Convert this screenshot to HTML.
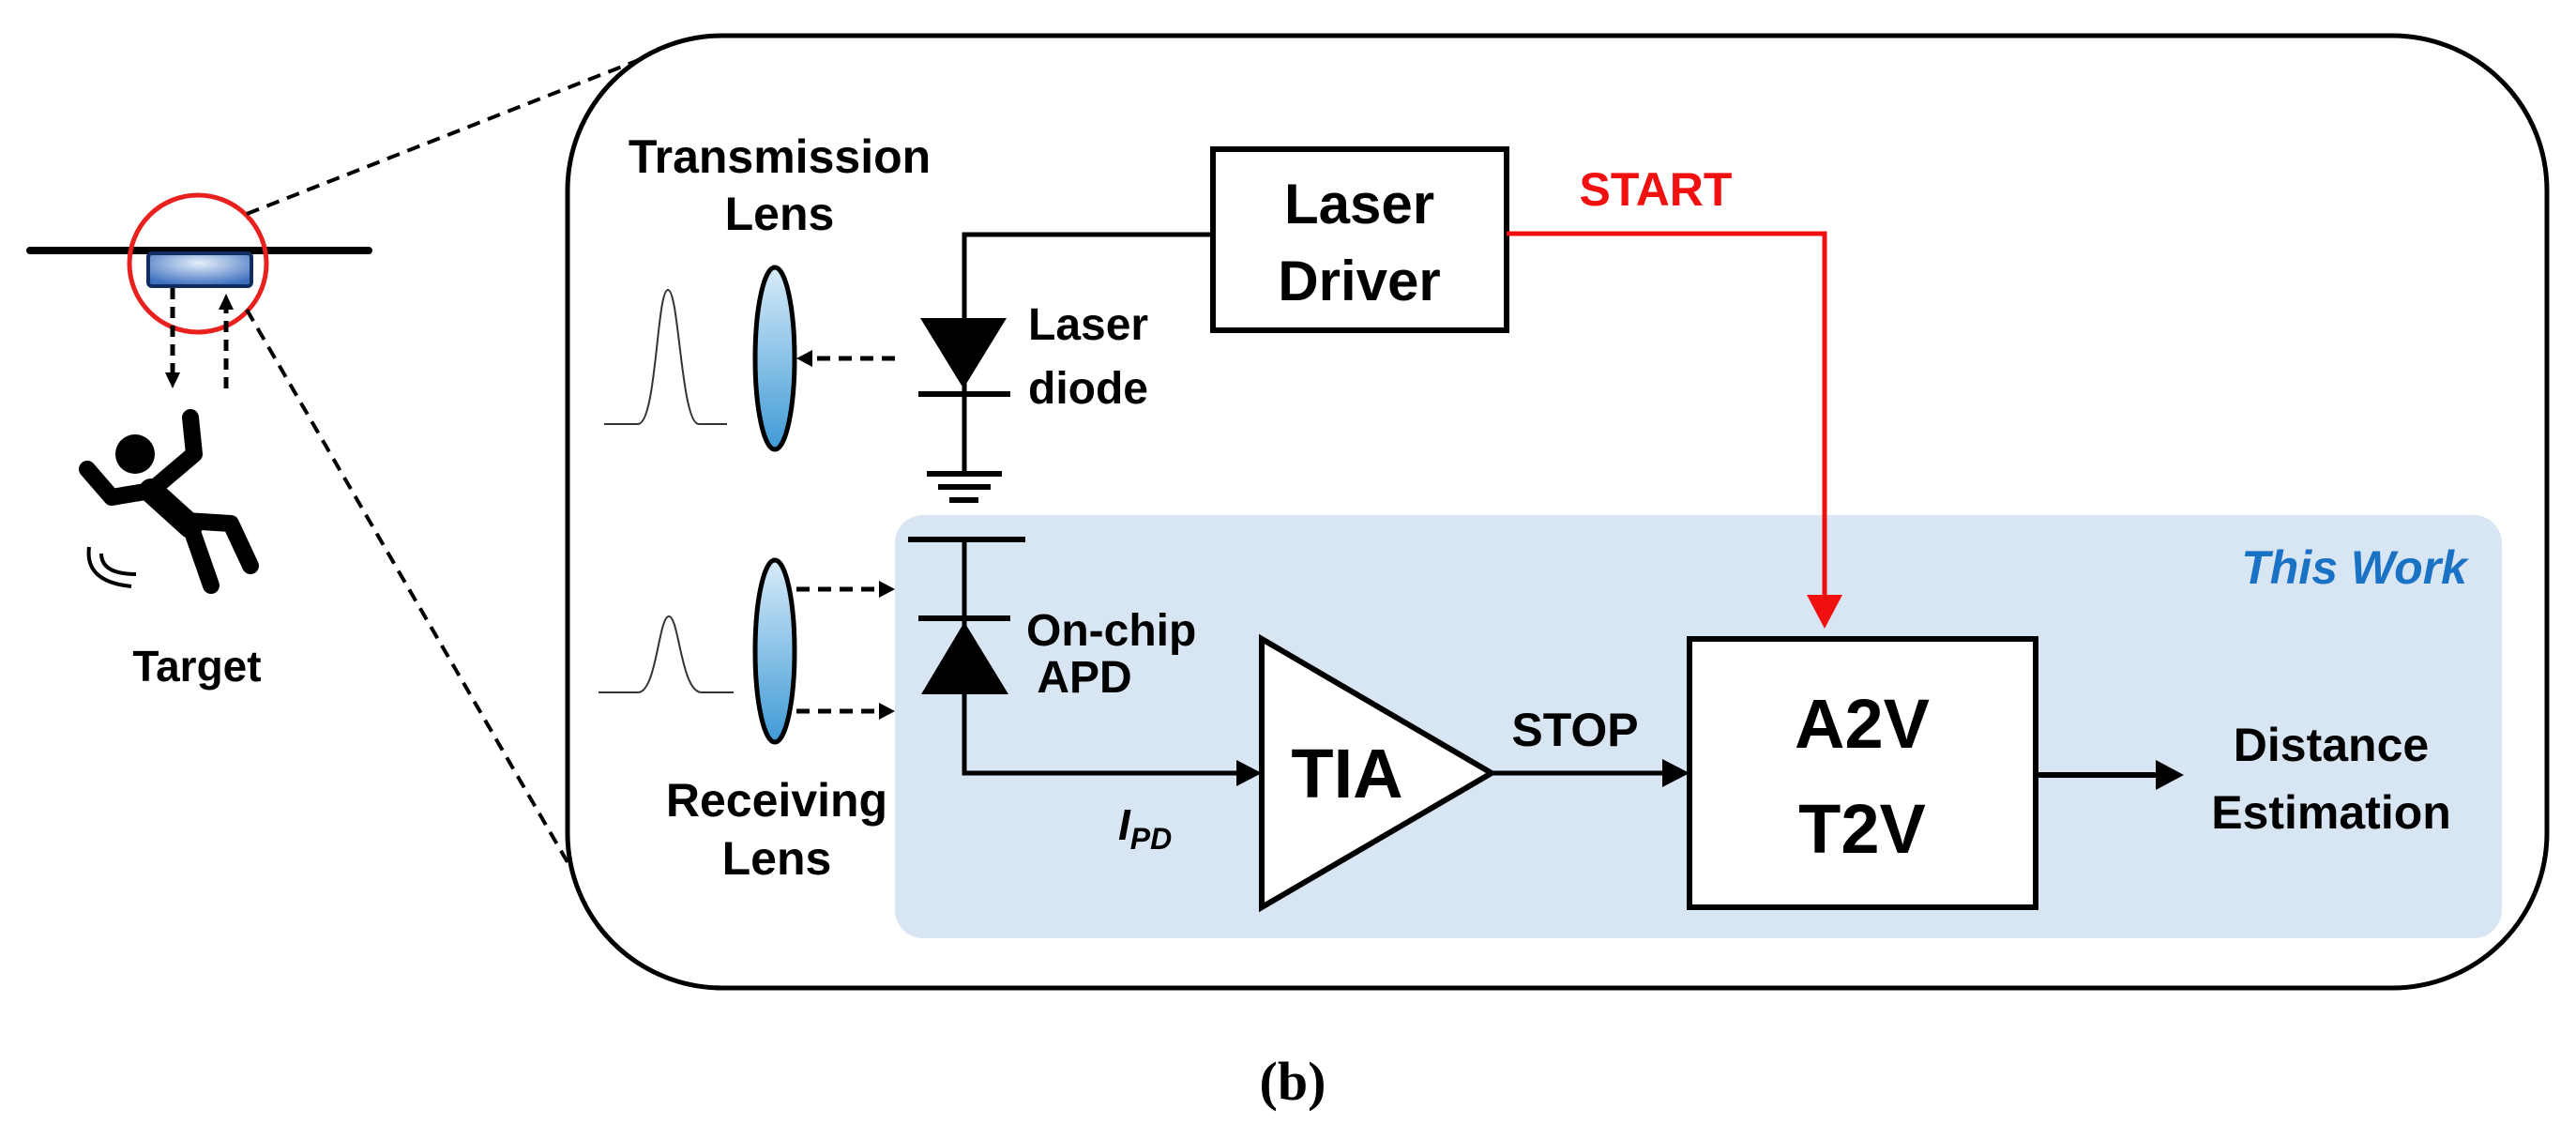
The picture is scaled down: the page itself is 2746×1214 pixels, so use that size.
<!DOCTYPE html>
<html><head><meta charset="utf-8"><style>
html,body{margin:0;padding:0;background:#fff;}
svg{display:block;}
text{font-family:"Liberation Sans",Arial,sans-serif;font-weight:bold;}
</style></head><body>
<svg width="2746" height="1214" viewBox="0 0 2746 1214" xmlns="http://www.w3.org/2000/svg">
<defs>
<linearGradient id="lg" x1="0" y1="0" x2="0" y2="1">
<stop offset="0" stop-color="#d6ebf8"/><stop offset="1" stop-color="#3f9ad6"/></linearGradient>
<radialGradient id="rg" cx="0.5" cy="0.3" r="0.7">
<stop offset="0" stop-color="#e6effa"/><stop offset="1" stop-color="#3d6fbf"/></radialGradient>
</defs>
<!-- outer box -->
<rect x="605" y="38" width="2110" height="1015" rx="165" fill="#fff" stroke="#000" stroke-width="5"/>
<rect x="954" y="549" width="1713" height="451" rx="30" fill="#d8e5f3"/>
<!-- left scene -->
<line x1="32" y1="267" x2="393" y2="267" stroke="#000" stroke-width="8" stroke-linecap="round"/>
<rect x="158" y="270" width="110" height="35" rx="4" fill="url(#rg)" stroke="#0f2d5e" stroke-width="4"/>
<circle cx="211" cy="281" r="73" fill="none" stroke="#e8201e" stroke-width="5"/>
<line x1="263" y1="228" x2="691" y2="60" stroke="#000" stroke-width="4" stroke-dasharray="14,9"/>
<line x1="263" y1="330" x2="605" y2="919" stroke="#000" stroke-width="4" stroke-dasharray="14,9"/>
<line x1="184" y1="307" x2="184" y2="398" stroke="#000" stroke-width="5" stroke-dasharray="12,8"/>
<polygon points="176,397 192,397 184,414" fill="#000"/>
<line x1="241" y1="414" x2="241" y2="328" stroke="#000" stroke-width="5" stroke-dasharray="12,8"/>
<polygon points="233,330 249,330 241,313" fill="#000"/>
<!-- person -->
<g stroke="#000" stroke-width="18" stroke-linecap="round" stroke-linejoin="round" fill="none">
<circle cx="144" cy="484" r="21" fill="#000" stroke="none"/>
<polyline points="203,445 207,484 161,523 119,530 93,500"/>
<polyline points="161,523 203,561 225,624"/>
<polyline points="198,555 246,558 267,603"/>
<line x1="161" y1="523" x2="203" y2="561" stroke-width="26"/>
</g>
<g stroke="#000" stroke-width="4" fill="none">
<path d="M95,583 Q90,620 140,625"/><path d="M108,590 Q108,612 145,612"/>
</g>
<text x="210" y="726" font-size="46" text-anchor="middle">Target</text>
<!-- lenses -->
<text x="831" y="184" font-size="50" text-anchor="middle">Transmission</text>
<text x="831" y="245" font-size="50" text-anchor="middle">Lens</text>
<text x="828" y="870" font-size="50" text-anchor="middle">Receiving</text>
<text x="828" y="932" font-size="50" text-anchor="middle">Lens</text>
<path d="M644,452 L680,452 C700,452 700,309 712,309 C724,309 726,452 745,452 L775,452" fill="none" stroke="#333" stroke-width="2"/>
<path d="M638,738 L680,738 C700,738 702,657 713,657 C724,657 726,738 748,738 L782,738" fill="none" stroke="#333" stroke-width="2"/>
<ellipse cx="826" cy="382" rx="21" ry="97" fill="url(#lg)" stroke="#000" stroke-width="5"/>
<ellipse cx="826" cy="694" rx="21" ry="97" fill="url(#lg)" stroke="#000" stroke-width="5"/>
<line x1="954" y1="382" x2="862" y2="382" stroke="#000" stroke-width="5" stroke-dasharray="14,9"/>
<polygon points="849,382 866,373 866,391" fill="#000"/>
<line x1="849" y1="628" x2="940" y2="628" stroke="#000" stroke-width="5" stroke-dasharray="14,9"/>
<polygon points="954,628 937,619 937,637" fill="#000"/>
<line x1="849" y1="758" x2="940" y2="758" stroke="#000" stroke-width="5" stroke-dasharray="14,9"/>
<polygon points="954,758 937,749 937,767" fill="#000"/>
<!-- laser diode -->
<polyline points="1291,250 1028,250 1028,505" fill="none" stroke="#000" stroke-width="5"/>
<polygon points="981,339 1073,339 1027,414" fill="#000"/>
<line x1="979" y1="420" x2="1077" y2="420" stroke="#000" stroke-width="6"/>
<line x1="988" y1="505" x2="1068" y2="505" stroke="#000" stroke-width="6"/>
<line x1="1000" y1="519" x2="1056" y2="519" stroke="#000" stroke-width="6"/>
<line x1="1012" y1="533" x2="1043" y2="533" stroke="#000" stroke-width="6"/>
<text x="1096" y="362" font-size="48">Laser</text>
<text x="1096" y="430" font-size="48">diode</text>
<!-- APD -->
<line x1="968" y1="575" x2="1093" y2="575" stroke="#000" stroke-width="6"/>
<polyline points="1028,575 1028,824 1330,824" fill="none" stroke="#000" stroke-width="5"/>
<line x1="979" y1="659" x2="1077" y2="659" stroke="#000" stroke-width="6"/>
<polygon points="982,740 1075,740 1028,663" fill="#000"/>
<polygon points="1345,824 1318,810 1318,838" fill="#000"/>
<text x="1094" y="688" font-size="48">On-chip</text>
<text x="1156" y="738" font-size="48" text-anchor="middle">APD</text>
<text x="1192" y="895" font-size="46" font-style="italic">I<tspan font-size="32" dy="10">PD</tspan></text>
<!-- Laser driver -->
<rect x="1293" y="159" width="313" height="193" fill="#fff" stroke="#000" stroke-width="6"/>
<text x="1449" y="238" font-size="60" text-anchor="middle">Laser</text>
<text x="1449" y="320" font-size="60" text-anchor="middle">Driver</text>
<text x="1765" y="219" font-size="50" text-anchor="middle" fill="#f01010">START</text>
<polyline points="1606,249 1945,249 1945,640" fill="none" stroke="#f01010" stroke-width="5"/>
<polygon points="1926,634 1964,634 1945,670" fill="#f01010"/>
<text x="2630" y="622" font-size="50" text-anchor="end" font-style="italic" fill="#1a72c4">This Work</text>
<!-- TIA -->
<polygon points="1345,681 1590,824 1345,967" fill="#fff" stroke="#000" stroke-width="6"/>
<text x="1436" y="850" font-size="74" text-anchor="middle">TIA</text>
<line x1="1590" y1="824" x2="1775" y2="824" stroke="#000" stroke-width="5"/>
<polygon points="1801,824 1772,809 1772,839" fill="#000"/>
<text x="1679" y="795" font-size="50" text-anchor="middle">STOP</text>
<rect x="1801" y="681" width="369" height="286" fill="#fff" stroke="#000" stroke-width="6"/>
<text x="1985" y="797" font-size="74" text-anchor="middle">A2V</text>
<text x="1985" y="909" font-size="74" text-anchor="middle">T2V</text>
<line x1="2170" y1="826" x2="2300" y2="826" stroke="#000" stroke-width="6"/>
<polygon points="2328,826 2298,810 2298,842" fill="#000"/>
<text x="2485" y="811" font-size="50" text-anchor="middle">Distance</text>
<text x="2485" y="883" font-size="50" text-anchor="middle">Estimation</text>
<text x="1378" y="1172" font-size="58" text-anchor="middle" style="font-family:'Liberation Serif',serif;font-weight:bold">(b)</text>
</svg>
</body></html>
